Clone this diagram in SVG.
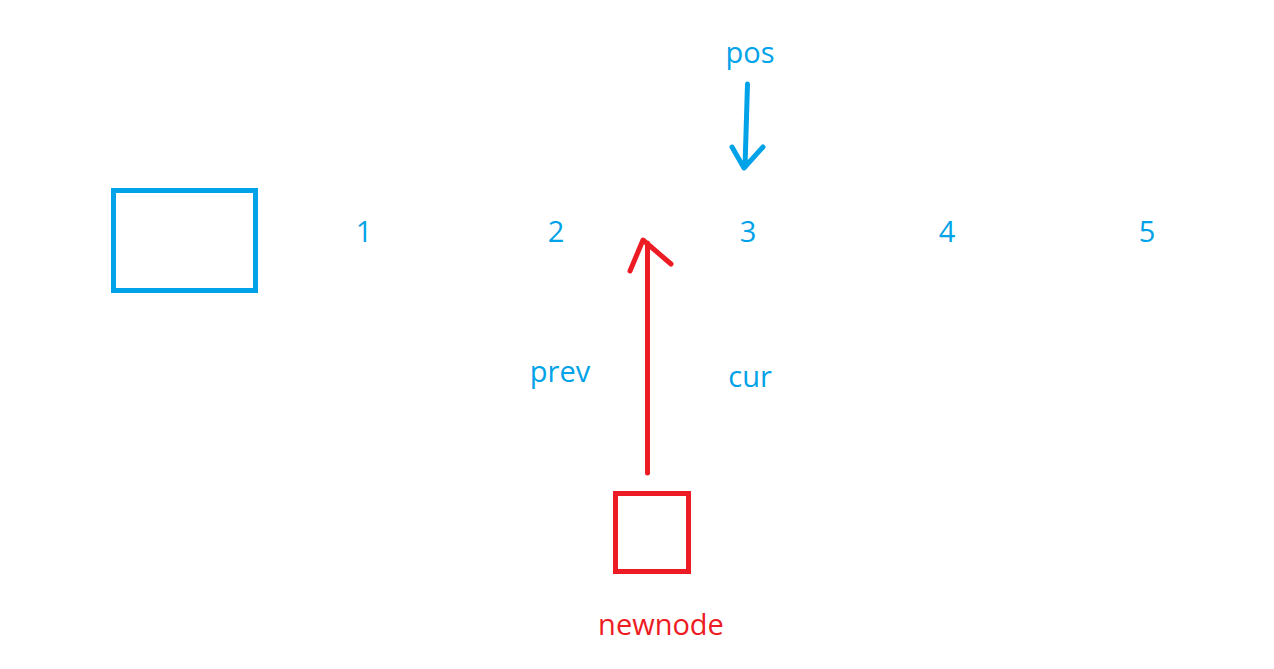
<svg xmlns="http://www.w3.org/2000/svg" width="1274" height="669" viewBox="0 0 1274 669">
<style>
.t{font-family:"Open Sans","Noto Sans",sans-serif;font-size:29px;text-anchor:middle}
.b{fill:#00A2E8}
.r{fill:#ED1C24}
.bs{stroke:#00A2E8;fill:none;stroke-width:5;stroke-linecap:round;stroke-linejoin:round}
.rs{stroke:#ED1C24;fill:none;stroke-width:5;stroke-linecap:round;stroke-linejoin:round}
</style>
<rect width="1274" height="669" fill="#fff"/>
<g id="head"><rect class="bs" x="113.5" y="190.5" width="142" height="100" style="stroke-linecap:butt;stroke-linejoin:miter"/></g>
<g id="n1"><text class="t b" x="364" y="242">1</text></g>
<g id="n2"><text class="t b" x="556" y="242">2</text></g>
<g id="n3"><text class="t b" x="748" y="242">3</text></g>
<g id="n4"><text class="t b" x="947" y="242">4</text></g>
<g id="n5"><text class="t b" x="1147" y="242">5</text></g>
<g id="pos"><text class="t b" x="750" y="63">pos</text></g>
<g id="prev"><text class="t b" x="560" y="382">prev</text></g>
<g id="cur"><text class="t b" x="750" y="387">cur</text></g>
<g id="newnode"><rect class="rs" x="615.5" y="493.5" width="73" height="78" style="stroke-linecap:butt;stroke-linejoin:miter"/><text class="t r" x="661" y="635">newnode</text></g>
<g id="connectors">
<path class="bs" d="M747.5 84 L745 167 M732 147 L744 168 L763 147"/>
<path class="rs" d="M647.5 473 L647.5 243 M630 271 L643 240 L671 264"/>
</g>
</svg>
